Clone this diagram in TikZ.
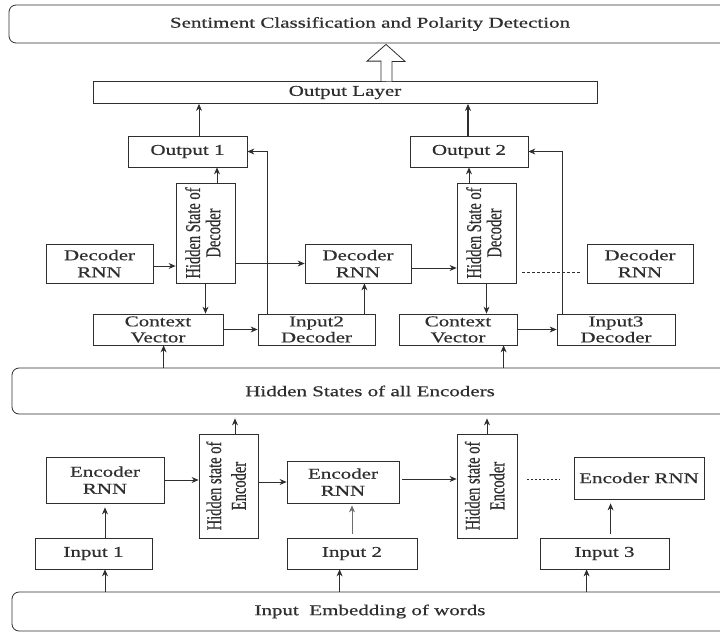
\documentclass[tikz,border=0pt]{standalone}
\usepackage{fontspec}
\setmainfont[FakeStretch=1.4,FakeBold=0.6]{Liberation Serif}
\newfontfamily\rotfont[FakeBold=0.6]{Liberation Serif}
\usetikzlibrary{arrows.meta,calc}
\definecolor{ink}{HTML}{2E2E2E}
\newcommand\rottxt[2]{\scalebox{1}[1.45]{\rotfont\fontsize{14.5}{#1}\selectfont\begin{tabular}{@{}c@{}}#2\end{tabular}}}
\tikzset{
  box/.style={draw=ink, line width=0.8pt, inner sep=0pt, text=ink, align=center,
    font=\fontsize{15}{17}\selectfont},
  rbox/.style={box, rounded corners=7pt},
  arr/.style={draw=ink, line width=0.8pt, -{Stealth[length=7pt,width=6pt]}},
  dline/.style={draw=ink, line width=0.8pt, dash pattern=on 3pt off 2pt},
  rot/.style={rotate=90, text=ink, inner sep=0pt}
}
\begin{document}
\begin{tikzpicture}[x=1pt,y=-1pt]
\useasboundingbox (0,0) rectangle (720,632);
\clip (0,0) rectangle (720,632);

% big boxes
\node[rbox, minimum width=722pt, minimum height=38pt] (top) at (370,24) {Sentiment Classification and Polarity Detection};
\node[box, minimum width=504pt, minimum height=22pt] (outl) at (345,92.5) {Output Layer};
\node[rbox, minimum width=716pt, minimum height=46pt] (hs) at (370,391) {Hidden States of all Encoders};
\node[rbox, minimum width=716pt, minimum height=39pt] (emb) at (370,611.5) {Input\ \ Embedding of words};

% decoder part
\node[box, minimum width=119pt, minimum height=31pt] (out1) at (187.5,151.5) {Output 1};
\node[box, minimum width=118pt, minimum height=31pt] (out2) at (469,151.5) {Output 2};
\node[box, minimum width=59pt, minimum height=100pt] (hsd1) at (205.5,233) {};
\node[rot] (hsd1t) at (hsd1.center) {\rottxt{13}{Hidden State of\\Decoder}};
\node[box, minimum width=59pt, minimum height=100pt] (hsd2) at (486.5,233) {};
\node[rot] (hsd2t) at (hsd2.center) {\rottxt{13}{Hidden State of\\Decoder}};
\node[box, minimum width=107pt, minimum height=39pt] (dec1) at (99.5,263.5) {Decoder\\RNN};
\node[box, minimum width=106pt, minimum height=39pt] (dec2) at (358,263.5) {Decoder\\RNN};
\node[box, minimum width=106pt, minimum height=39pt] (dec3) at (640,263.5) {Decoder\\RNN};
\node[box, minimum width=130pt, minimum height=31pt, font=\fontsize{15}{16}\selectfont] (ctx1) at (158,329.5) {Context\\Vector};
\node[box, minimum width=117pt, minimum height=31pt, font=\fontsize{15}{16}\selectfont] (ind2) at (316.5,329.5) {Input2\\Decoder};
\node[box, minimum width=118pt, minimum height=31pt, font=\fontsize{15}{16}\selectfont] (ctx2) at (458,329.5) {Context\\Vector};
\node[box, minimum width=118pt, minimum height=31pt, font=\fontsize{15}{16}\selectfont] (ind3) at (616,329.5) {Input3\\Decoder};

% encoder part
\node[box, minimum width=59pt, minimum height=104pt] (hse1) at (228.5,486) {};
\node[rot] (hse1t) at (hse1.center) {\rottxt{17}{Hidden state of\\Encoder}};
\node[box, minimum width=60pt, minimum height=104pt] (hse2) at (487,486) {};
\node[rot] (hse2t) at (hse2.center) {\rottxt{17}{Hidden state of\\Encoder}};
\node[box, minimum width=118pt, minimum height=46pt] (enc1) at (105,480) {Encoder\\RNN};
\node[box, minimum width=112pt, minimum height=42pt] (enc2) at (343,482) {Encoder\\RNN};
\node[box, minimum width=130pt, minimum height=42pt] (enc3) at (639,478) {Encoder RNN};
\node[box, minimum width=117pt, minimum height=31pt] (in1) at (93.5,553.5) {Input 1};
\node[box, minimum width=130pt, minimum height=31pt] (in2) at (352,553.5) {Input 2};
\node[box, minimum width=129pt, minimum height=31pt] (in3) at (604.5,553.5) {Input 3};

% hollow arrow
\draw[ink, line width=0.8pt, fill=white, line join=miter]
  ($(outl.north)+(36,0)$) -- ++(0,-20) -- ++(-14,0) -- ($(top.south -| outl.north)+(41,1)$)
  -- ++(19,17) -- ++(-13,0) -- ++(0,20);

% decoder connectors
\draw[arr] ([xshift=11.5pt]out1.north) -- ([xshift=11.5pt]out1.north |- outl.south);
\draw[arr, line width=1.3pt] ([xshift=-1pt]out2.north) -- ([xshift=-1pt]out2.north |- outl.south);
\draw[arr] ([xshift=11.5pt]hsd1.north) -- ([xshift=11.5pt]hsd1.north |- out1.south);
\draw[arr] (hsd2.north -| out2) -- (out2.south);
\draw[arr] ([yshift=-2.5pt]dec1.east) -- ([yshift=-2.5pt]dec1.east -| hsd1.west);
\draw[arr] (dec2.west -| hsd1.east) -- (dec2.west);
\draw[arr] ([yshift=-4.5pt]dec2.east) -- ([yshift=-4.5pt]dec2.east -| hsd2.west);
\draw[dline] ([xshift=6pt,yshift=11pt]hsd2.east |- dec3.south) -- ([xshift=-5pt,yshift=11pt]dec3.south west);
\draw[arr] ([xshift=10pt]ind2.north west) |- (out1.east);
\draw[arr] ([xshift=6pt]ind3.north west) |- (out2.east);
\draw[arr] (hsd1.south) -- (hsd1.south |- ctx1.north);
\draw[arr] (hsd2.south) -- (hsd2.south |- ctx2.north);
\draw[arr] (ctx1.east) -- (ind2.west);
\draw[arr] (ctx2.east) -- (ind3.west);
\draw[arr] ([xshift=-11pt]ind2.north east) -- ([xshift=-11pt]ind2.north east |- dec2.south);
\draw[arr] ([xshift=71pt]ctx1.south west |- hs.north) -- ([xshift=71pt]ctx1.south west);
\draw[arr] ([xshift=105pt]ctx2.south west |- hs.north) -- ([xshift=105pt]ctx2.south west);

% encoder connectors
\draw[arr] ([xshift=6.5pt]hse1.north) -- ([xshift=6.5pt,yshift=-4pt]hse1.north |- hs.south);
\draw[arr] (hse2.north) -- ([yshift=-4pt]hse2.north |- hs.south);
\draw[arr] (enc1.east) -- (enc1.east -| hse1.west);
\draw[arr] (enc2.west -| hse1.east) -- (enc2.west);
\draw[arr] ([xshift=3pt,yshift=3pt]enc2.east) -- ([yshift=3pt]enc2.east -| hse2.west);
\draw[dline, dash pattern=on 2pt off 2pt, line width=0.6pt] ([xshift=10pt,yshift=3pt]enc2.east -| hse2.east) -- ([xshift=-14pt,yshift=3pt]enc2.east -| enc3.west);
\draw[arr] (in1.north -| enc1) -- ([yshift=-4pt]enc1.south);
\draw[arr, draw=ink!70] ([yshift=4pt]in2.north) -- ([yshift=-2pt]in2.north |- enc2.south);
\draw[arr] ([xshift=71pt,yshift=4pt]in3.north west) -- ([xshift=71pt,yshift=-4pt]in3.north west |- enc3.south);
\draw[arr] (emb.north -| enc1) -- (in1.south -| enc1);
\draw[arr] ([xshift=53pt]in2.south west |- emb.north) -- ([xshift=53pt]in2.south west);
\draw[arr] ([xshift=47pt]in3.south west |- emb.north) -- ([xshift=47pt]in3.south west);
\end{tikzpicture}
\end{document}
